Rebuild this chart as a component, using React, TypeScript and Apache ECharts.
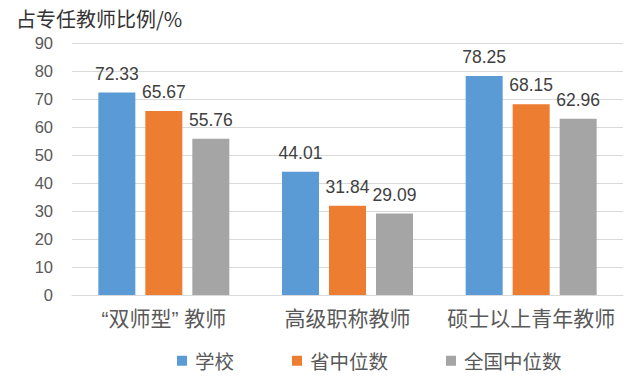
import React, { useEffect, useRef } from "react";
import * as echarts from "echarts";

const categories = ["“双师型” 教师", "高级职称教师", "硕士以上青年教师"];
const schoolValues = [72.33, 44.01, 78.25];
const provinceValues = [65.67, 31.84, 68.15];
const nationalValues = [55.76, 29.09, 62.96];
const seriesNames = ["学校", "省中位数", "全国中位数"];
const colors = ["#5B9BD5", "#ED7D31", "#A5A5A5"];

const NUM_FONT = "Liberation Sans, Noto Sans CJK SC, sans-serif";
const CJK_FONT = "Noto Sans CJK SC, sans-serif";
const TEXT = "#595959";

export default function App() {
  const ref = useRef<HTMLDivElement>(null);
  useEffect(() => {
    if (!ref.current) return;
    const chart = echarts.init(ref.current, undefined, { renderer: "svg" });
    const label = {
      show: true,
      position: "top",
      distance: 10,
      color: "#404040",
      fontSize: 17.5,
      fontFamily: NUM_FONT,
    };
    const data = [schoolValues, provinceValues, nationalValues];
    chart.setOption({
      animation: false,
      backgroundColor: "#ffffff",
      title: {
        text: "占专任教师比例/%",
        left: 16,
        top: 8,
        padding: 0,
        textStyle: { fontSize: 20, lineHeight: 20, fontWeight: "normal", color: "#333333", fontFamily: CJK_FONT },
      },
      legend: {
        data: seriesNames,
        top: 351,
        left: 177,
        padding: 0,
        itemWidth: 10,
        itemHeight: 10,
        itemGap: 58,
        icon: "rect",
        textStyle: { fontSize: 19.5, color: TEXT, fontFamily: CJK_FONT, padding: [0, 0, 0, 3] },
      },
      grid: { left: 72, right: 16, top: 43, bottom: 88, containLabel: false },
      xAxis: {
        type: "category",
        data: categories,
        axisLine: { lineStyle: { color: "#D9D9D9" } },
        axisTick: { show: false },
        axisLabel: { interval: 0, fontSize: 21, color: TEXT, margin: 13, fontFamily: NUM_FONT },
      },
      yAxis: {
        type: "value",
        min: 0,
        max: 90,
        interval: 10,
        axisLine: { show: false },
        axisTick: { show: false },
        axisLabel: { fontSize: 16.5, color: TEXT, margin: 19, fontFamily: NUM_FONT },
        splitLine: { lineStyle: { color: "#D9D9D9" } },
      },
      series: seriesNames.map((name, i) => ({
        name,
        type: "bar",
        data: data[i],
        barWidth: 37,
        barGap: "27%",
        itemStyle: { color: colors[i] },
        label,
      })),
    });
    return () => chart.dispose();
  }, []);
  return (
    <div
      ref={ref}
      style={{ position: "fixed", left: 0, top: 0, width: 639, height: 383 }}
    />
  );
}
